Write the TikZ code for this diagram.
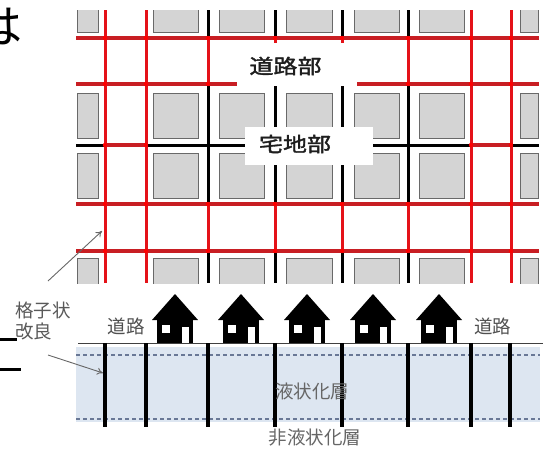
\documentclass[tikz,border=0pt]{standalone}
\usepackage{fontspec}
\newfontfamily\jp{Noto Sans CJK JP}
\newfontfamily\jpbold{Noto Sans CJK JP}[FakeBold=1.6]
\usetikzlibrary{arrows.meta}

\definecolor{redH}{RGB}{200,30,35}
\definecolor{redV}{RGB}{228,18,24}
\definecolor{lotfill}{RGB}{212,212,212}
\definecolor{lotedge}{RGB}{105,105,105}
\definecolor{water}{RGB}{221,230,241}
\definecolor{dashc}{RGB}{105,120,150}
\definecolor{txtgray}{RGB}{80,80,80}
\definecolor{txtdark}{RGB}{30,30,30}

\begin{document}
\begin{tikzpicture}[x=1pt,y=-1pt,
  redh/.style={draw=redH, line width=3.6pt},
  redv/.style={draw=redV, line width=3pt},
  blk/.style={draw=black, line width=3pt},
  lot/.style={fill=lotfill, draw=lotedge, line width=0.7pt},
  zonelabel/.style={font=\jpbold\fontsize{20}{20}\selectfont, text=txtdark, inner sep=0pt, xscale=1.2},
  lowtxt/.style={font=\jp\fontsize{18.5}{18.5}\selectfont, text=txtgray, inner sep=0pt},
  pile/.style={draw=black, line width=4pt},
  layerline/.style={draw=dashc, line width=1.2pt, dash pattern=on 4pt off 3pt},
  pointer/.style={draw=black!60, line width=0.9pt, -{To[length=6pt,width=7pt]}},
  house/.style={fill=black}
]
\useasboundingbox (0,0) rectangle (546,450);

% ---- plan view: lots and grid lines ----
\begin{scope}
  \clip (76,10) rectangle (539,283);
  \foreach \ya/\yb in {-13/32, 93/138, 153/198, 258/303}
    \foreach \xa/\xb in {77/98, 153/198, 219/264, 286/332, 354/399, 419/464, 520/538}
      \path[lot] (\xa,\ya) rectangle (\xb,\yb);
  % residential lines
  \draw[blk] (76,145) -- (539,145);
  \foreach \x in {208,275,342,408}
    \draw[blk] (\x,10) -- (\x,283);
  % road lines
  \foreach \y in {38,84,204,251}
    \draw[redh] (76,\y) -- (539,\y);
  \foreach \x in {208,275,342,408} {
    \draw[redv] (\x,38) -- (\x,84);
    \draw[redv] (\x,204) -- (\x,251);
  }
  \draw[redh] (105,145) -- (146,145);
  \draw[redh] (471,145) -- (511,145);
  \foreach \x in {105,146,471,511}
    \draw[redv] (\x,10) -- (\x,283);
  % crossings
  \foreach \y in {38,84,204,251}
    \foreach \x in {105,146,208,275,342,408,471,511}
      \fill[red] (\x,\y) circle (2.2pt);
  \foreach \x in {105,146,471,511}
    \fill[red] (\x,145) circle (2.2pt);
\end{scope}

% zone labels
\fill[white] (237,43) rectangle (357,86);
\node[zonelabel] (road) at (285.5,66) {道路部};
\fill[white] (245,127) rectangle (373,165);
\node[zonelabel] (lots) at (295,144) {宅地部};

% ---- section view ----
\fill[water] (76,347) rectangle (540,422);
\draw[layerline] (76,355) -- (540,355);
\draw[layerline] (76,419) -- (540,419);
\draw[draw=black!75, line width=0.9pt] (78,343) -- (543,343);
\foreach \x in {105,146,208,275,342,408,471,510}
  \draw[pile] (\x,343) -- (\x,427);

% houses
\foreach \c in {175,241,307,373,439} {
  \fill[house] (\c,294) -- (\c+23,320) -- (\c-23,320) -- cycle;
  \fill[house] (\c-18,318) rectangle (\c+18,343);
  \fill[white] (\c-13,325) rectangle (\c-5,333);
  \fill[white] (\c+7,327) rectangle (\c+14,343);
}

\node[lowtxt] (roadleft) at (126,326) {道路};
\node[lowtxt] (roadright) at (492.5,326) {道路};
\node[lowtxt, text=black!60] (liq) at (312,391) {液状化層};
\node[lowtxt, text=black!60] (nonliq) at (315,438) {非液状化層};

% grid improvement label and pointers
\node[lowtxt, anchor=west, text=black!65] (grid1) at (15,310) {格子状};
\node[lowtxt, anchor=west, text=black!65] (grid2) at (15,331) {改良};
\coordinate (plantip) at (102,231);
\coordinate (piletip) at (103,373);
\coordinate (planfoot) at (48,281);
\coordinate (pilefoot) at (48,355);
\draw[pointer] (planfoot) -- (plantip);
\draw[pointer] (pilefoot) -- (piletip);

% neighbouring slide fragments at the left edge
\node[anchor=east, inner sep=0pt, font=\jp\fontsize{46}{46}\selectfont] (frag) at (23,27) {は};
\draw[black, line width=3pt] (0,339) -- (17,339);
\draw[black, line width=3pt] (0,369) -- (21,369);
\end{tikzpicture}
\end{document}
